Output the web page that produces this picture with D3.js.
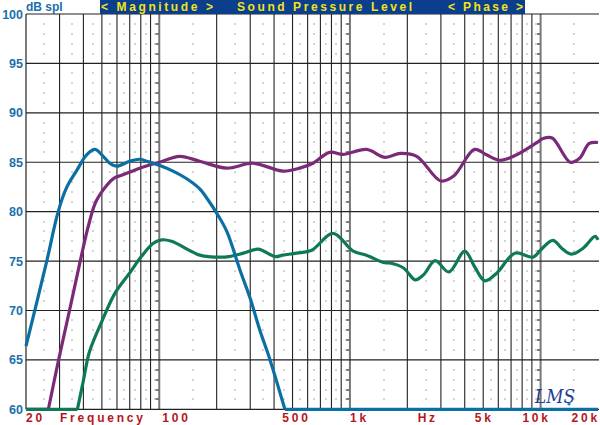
<!DOCTYPE html>
<html>
<head>
<meta charset="utf-8">
<script src="https://cdn.jsdelivr.net/npm/d3@7"></script>
<style>
  body { margin: 0; background: #fff; }
  svg { display: block; font-family: "Liberation Sans", Arial, sans-serif; }
</style>
</head>
<body>
<div id="chart"></div>
<script>
// frequency response, dB SPL, three drivers
var blueFreq = [20, 25.7, 29.5, 32.6, 37, 41.6, 46, 50.8, 55, 60, 70, 79, 86, 100, 118, 140, 163, 180, 200, 226, 265, 300, 337, 381, 456, 20000];
var blueDb   = [66.4, 75.0, 80.0, 82.4, 84.2, 85.75, 86.3, 85.6, 84.9, 84.6, 85.1, 85.3, 85.1, 84.7, 84.1, 83.3, 82.3, 81.2, 79.85, 78.0, 74.1, 71.2, 68.0, 65.0, 60, 60];

var purpleFreq = [20, 26.2, 29.5, 34, 38.5, 42.4, 46.5, 52.7, 58, 64, 79, 100, 128, 163, 226, 311, 445, 545, 640, 782, 920, 1220, 1530, 1840, 2240, 3000, 3500, 4500, 5200, 6100, 7200, 9400, 10300, 11500, 14300, 16000, 18000, 20000];
var purpleDb   = [60, 60, 64.8, 70.2, 75, 78.5, 81.0, 82.6, 83.4, 83.7, 84.4, 85.0, 85.6, 85.1, 84.4, 84.9, 84.1, 84.4, 84.9, 86.0, 85.8, 86.3, 85.5, 85.9, 85.6, 83.1, 83.6, 86.3, 85.75, 85.2, 85.6, 86.9, 87.4, 87.45, 85.0, 85.4, 86.9, 87.0];

var greenFreq = [20, 37.2, 40, 43, 50, 58.6, 70, 80.5, 93, 103, 116, 163, 200, 232, 276, 330, 405, 445, 525, 630, 815, 1040, 1220, 1500, 1620, 1910, 2200, 2430, 2800, 3300, 4000, 4500, 5100, 5900, 7330, 9140, 10100, 11600, 12900, 14500, 16700, 19300, 20000];
var greenDb   = [60, 60, 62.9, 65.8, 68.9, 71.75, 73.8, 75.45, 76.8, 77.15, 77.0, 75.6, 75.4, 75.45, 75.8, 76.2, 75.45, 75.6, 75.8, 76.1, 77.8, 76.0, 75.6, 74.85, 74.8, 74.3, 73.1, 73.6, 75.05, 73.9, 76.0, 74.45, 73.0, 73.8, 75.8, 75.4, 76.2, 77.1, 76.3, 75.7, 76.3, 77.5, 77.15];

var dbTicks = [60, 65, 70, 75, 80, 85, 90, 95, 100];
var gridFreqs = [30, 40, 50, 60, 70, 80, 90, 200, 300, 400, 500, 600, 700, 800, 900,
                 2000, 3000, 4000, 5000, 6000, 7000, 8000, 9000];
var decadeFreqs = [100, 1000, 10000];
var dotFreqs = [25, 35, 45, 55, 65, 75, 85, 95, 150, 250, 350, 450, 550, 650, 750, 850, 950,
                1500, 2500, 3500, 4500, 5500, 6500, 7500, 8500, 9500, 15000];
var xLabels = [
  {text: "20", f: 20, anchor: "start", dx: 0},
  {text: "Frequency", f: 50, anchor: "middle", dx: 1},
  {text: "100", f: 100, anchor: "start", dx: 3},
  {text: "500", f: 500, anchor: "middle", dx: 4},
  {text: "1k", f: 1000, anchor: "start", dx: 0},
  {text: "Hz", f: 2500, anchor: "middle", dx: 2},
  {text: "5k", f: 5000, anchor: "middle", dx: 1},
  {text: "10k", f: 10000, anchor: "middle", dx: -4},
  {text: "20k", f: 20000, anchor: "end", dx: 2}
];

var width = 600, height = 425;
var plotL = 26, plotR = 598, plotT = 14, plotB = 409.3;

var svg = d3.select("#chart").append("svg")
    .attr("width", width)
    .attr("height", height);

var x = d3.scaleLog().domain([20, 20000]).range([plotL, plotR]);
var y = d3.scaleLinear().domain([60, 100]).range([plotB, plotT]);

svg.append("clipPath")
    .attr("id", "plot-clip")
  .append("rect")
    .attr("x", plotL - 2).attr("y", plotT)
    .attr("width", plotR - plotL + 4).attr("height", plotB - plotT + 1.6);

// dotted minor grid
var minorDb = d3.range(61, 100).filter(function(d) { return d % 5 !== 0; });
var dots = [];
dotFreqs.forEach(function(f) { minorDb.forEach(function(v) { dots.push([f, v]); }); });
svg.append("g").selectAll("rect")
    .data(dots)
  .enter().append("rect")
    .attr("x", function(d) { return Math.round(x(d[0])) - 0.5; })
    .attr("y", function(d) { return Math.round(y(d[1])) - 0.5; })
    .attr("width", 1)
    .attr("height", 1)
    .attr("fill", "#555");

// small ticks beside decade lines
var dticks = [];
decadeFreqs.forEach(function(f) { minorDb.forEach(function(v) { dticks.push([f, v]); }); });
svg.append("g").selectAll("line")
    .data(dticks)
  .enter().append("line")
    .attr("x1", function(d) { return x(d[0]) - 3.5; })
    .attr("x2", function(d) { return x(d[0]); })
    .attr("y1", function(d) { return Math.round(y(d[1])); })
    .attr("y2", function(d) { return Math.round(y(d[1])); })
    .attr("stroke", "#222")
    .attr("stroke-width", 1.2);

// vertical grid
svg.append("g").selectAll("line")
    .data(gridFreqs)
  .enter().append("line")
    .attr("x1", function(d) { return x(d); })
    .attr("x2", function(d) { return x(d); })
    .attr("y1", plotT)
    .attr("y2", plotB)
    .attr("stroke", "#222")
    .attr("stroke-width", 1.1);

svg.append("g").selectAll("line")
    .data(decadeFreqs)
  .enter().append("line")
    .attr("x1", function(d) { return x(d); })
    .attr("x2", function(d) { return x(d); })
    .attr("y1", plotT)
    .attr("y2", plotB)
    .attr("stroke", "#777")
    .attr("stroke-width", 2);

// horizontal grid
svg.append("g").selectAll("line")
    .data(dbTicks)
  .enter().append("line")
    .attr("x1", plotL)
    .attr("x2", plotR + 1)
    .attr("y1", function(d) { return y(d); })
    .attr("y2", function(d) { return y(d); })
    .attr("stroke", "#222")
    .attr("stroke-width", 1.2);

svg.append("line")
    .attr("x1", plotL).attr("x2", plotL)
    .attr("y1", plotT).attr("y2", plotB)
    .attr("stroke", "#222").attr("stroke-width", 1.2);

// y axis labels
svg.append("g")
    .attr("transform", "translate(" + plotL + ",0)")
    .style("font-family", "Liberation Sans, Arial, sans-serif")
    .style("font-size", "12.5px")
    .style("font-weight", "bold")
    .call(d3.axisLeft(y).tickValues(dbTicks).tickSize(0).tickPadding(3))
    .call(function(g) { g.select(".domain").remove(); })
    .selectAll("text")
      .attr("fill", "#1b6fad");

svg.append("text")
    .attr("x", 26)
    .attr("y", 11)
    .attr("fill", "#1b6fad")
    .style("font-size", "12px")
    .style("font-weight", "bold")
    .text("dB spl");

// x labels
svg.append("g").selectAll("text")
    .data(xLabels)
  .enter().append("text")
    .attr("x", function(d) { return x(d.f) + d.dx; })
    .attr("y", 422)
    .attr("text-anchor", function(d) { return d.anchor; })
    .attr("fill", "#b5161c")
    .style("font-size", "12px")
    .style("font-weight", "bold")
    .style("letter-spacing", "2.8px")
    .text(function(d) { return d.text; });

// header bar
svg.append("rect")
    .attr("x", 100).attr("y", 0)
    .attr("width", 425).attr("height", 14)
    .attr("fill", "#0b3e8c");

var header = [
  {text: "< Magnitude >", x0: 101, len: 112},
  {text: "Sound Pressure Level", x0: 237, len: 175},
  {text: "< Phase >", x0: 448, len: 75}
];
svg.append("g").selectAll("text")
    .data(header)
  .enter().append("text")
    .attr("x", function(d) { return d.x0; })
    .attr("y", 11)
    .attr("textLength", function(d) { return d.len; })
    .attr("lengthAdjust", "spacing")
    .attr("fill", "#f2e418")
    .style("font-size", "12px")
    .style("font-weight", "bold")
    .text(function(d) { return d.text; });

// curves: runs sitting on the 60 dB floor are straight, the rest smooth
var smooth = d3.line()
    .x(function(d) { return x(d[0]); })
    .y(function(d) { return y(d[1]); })
    .curve(d3.curveCatmullRom.alpha(0.5));
var straight = d3.line()
    .x(function(d) { return x(d[0]); })
    .y(function(d) { return y(d[1]); });

function pieces(pts) {
  var out = [], cur = [pts[0]], curFlat = null;
  for (var i = 1; i < pts.length; i++) {
    var flat = pts[i - 1][1] === 60 && pts[i][1] === 60;
    if (curFlat === null) curFlat = flat;
    if (flat !== curFlat) {
      out.push({flat: curFlat, pts: cur});
      cur = [pts[i - 1]];
      curFlat = flat;
    }
    cur.push(pts[i]);
  }
  out.push({flat: curFlat, pts: cur});
  return out;
}

var series = [
  {freq: purpleFreq, db: purpleDb, color: "#7b2a78"},
  {freq: greenFreq, db: greenDb, color: "#0d7a55"},
  {freq: blueFreq, db: blueDb, color: "#0b6fa3"}
];

var curves = svg.append("g").attr("clip-path", "url(#plot-clip)");
series.forEach(function(s) {
  var pts = s.freq.map(function(f, i) { return [f, s.db[i]]; });
  var d = pieces(pts).map(function(p) {
    return p.flat ? straight(p.pts) : smooth(p.pts);
  }).join("");
  curves.append("path")
      .attr("fill", "none")
      .attr("stroke", s.color)
      .attr("stroke-width", 3.2)
      .attr("stroke-linejoin", "round")
      .attr("d", d);
});

// signature
svg.append("text")
    .attr("x", 535)
    .attr("y", 403)
    .attr("fill", "#1d3f9a")
    .style("font-family", "DejaVu Serif, serif")
    .style("font-style", "italic")
    .style("font-size", "19px")
    .attr("textLength", 40)
    .attr("lengthAdjust", "spacingAndGlyphs")
    .text("LMS");

svg.append("circle")
    .attr("cx", 569).attr("cy", 404).attr("r", 1.6)
    .attr("fill", "#1a8cc4");
</script>
</body>
</html>
